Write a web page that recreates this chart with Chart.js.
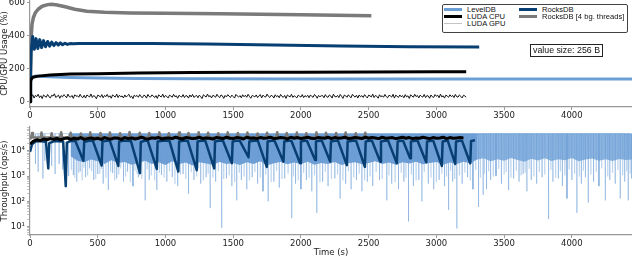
<!DOCTYPE html>
<html><head><meta charset="utf-8">
<script src="https://cdn.jsdelivr.net/npm/chart.js@4.4.1/dist/chart.umd.min.js"></script>
<style>
html,body{margin:0;padding:0;background:#fff;}
#wrap{position:relative;width:632px;height:258px;overflow:hidden;background:#fff;}
canvas{position:absolute;left:0;}
#legend{position:absolute;left:442px;top:4px;width:184px;height:27px;border:1px solid #444;border-radius:2px;background:#fff;font-family:"Liberation Sans",Arial,sans-serif;font-size:7.6px;color:#111;}
.li{position:absolute;height:7px;line-height:7px;white-space:nowrap;width:100px;}
.sw{position:absolute;left:0;width:18px;}
.lt{position:absolute;left:23px;top:0;}
#vs{position:absolute;left:530px;top:44px;width:71px;height:11px;border:1px solid #222;font-family:"Liberation Sans",Arial,sans-serif;font-size:8.8px;line-height:11px;text-align:center;color:#111;background:#fff;}
</style></head>
<body>
<div id="wrap">
<canvas id="cpu" width="632" height="122" style="top:0"></canvas>
<canvas id="tput" width="632" height="136" style="top:122px"></canvas>
<div id="legend"></div>
<div id="vs">value size: 256 B</div>
</div>
<script>
// ---------- axis ticks ----------
const timeTicks = [0,500,1000,1500,2000,2500,3000,3500,4000];
const usageTicks = [0,200,400,600];
const tputMajor = [10,100,1000,10000];
const tputMajorLabels = ['10¹','10²','10³','10⁴'];
const tputMinor = [5,6,7,8,9,20,30,40,50,60,70,80,90,200,300,400,500,600,700,800,900,2000,3000,4000,5000,6000,7000,8000,9000,20000,30000,40000,50000,60000,70000,80000];

// ---------- series names ----------
const seriesNames = ['LevelDB','LUDA CPU','LUDA GPU','RocksDB','RocksDB [4 bg. threads]'];

// ---------- CPU / GPU usage (%) ----------
const levelCpuT = [0,5,15,40,100,200,300,500,800,1200,2000,3000,4000,4450];
const levelCpu  = [0,120,148,155,152,150,147,143,140,139,138,137,137,137];

const ludaCpuT = [0,5,20,60,150,300,500,800,1200,1600,2000,2500,3000,3220];
const ludaCpu  = [0,130,148,155,162,168,170,174,177,178,179,180,181,182];

const ludaGpuStep = 10;
const ludaGpu = [35,28,42,22,38,31,45,25,36,19,41,33,27,44,30,23,39,34,48,26,
32,40,21,37,29,43,35,24,46,31,28,38,20,42,33,36,27,45,30,25,
39,22,41,34,29,47,26,37,32,18,40,35,28,43,24,38,31,44,27,36,
21,42,33,29,46,25,39,30,35,23,41,28,37,45,26,34,19,40,32,38,
27,43,30,24,39,36,22,44,31,28,41,35,25,37,20,42,33,29,46,26,
38,31,23,40,34,27,45,30,36,21,39,32,28,43,25,37,35,22,41,29,
44,26,33,38,24,40,31,19,42,35,28,46,30,37,23,39,34,27,45,32,
25,41,36,20,38,29,43,33,26,40,31,22,44,35,28,37,24,42,30,39,
27,45,32,21,38,34,29,41,25,36,43,23,40,31,28,46,33,26,39,35,
22,42,30,37,24,44,32,27,38,20,41,34,29,45,26,36,31,23,40,33,
28,43,25,37,30,39,24,41,32,27,44,35,21,38,30,36,
37,24,43,30,27,41,35,22,46,31,29,38,25,44,33,20,40,36,27,42,
31,24,45,34,28,39,22,41,30,37,26,43,32,23,40,35,29,46,25,38,
33,21,42,30,36,27,44,31,24,39,35,28,45,22,40,33,26,41,30,37,
24,43,29,36,20,42,34,27,45,31,38,23,40,32,28,44,25,37,35,21,
41,30,26,43,33,39,24,46,29,36,22,40,34,27,42,31,38,25,44,30,
28,41,33,23,39,35,27];

const rocksCpuT = [0,8,20,32,45,58,72,86,100,115,130,145,160,176,192,208,224,240,258,276,295,320,360,450,600,900,1300,1800,2300,2800,3316];
const rocksCpu  = [0,300,395,318,382,322,376,328,370,333,365,337,361,340,358,343,356,345,354,347,352,351,352,353,352,352,350,344,338,333,331];

const rocks4CpuT = [0,8,15,25,40,60,90,130,160,200,260,330,420,550,740,1000,1400,2000,2520];
const rocks4Cpu  = [0,380,470,510,540,560,578,588,590,586,575,560,548,542,538,536,532,526,521];

// ---------- Throughput (ops/s) ----------
const levelTop = 47000;
const levelBandStart = 300, levelBandStep = 50, levelBandSplit = 60; // split index at t = 3300
const levelBandLow = [6000,4000,3500,4500,3800,3000,4200,3300,3600,2800,
3200,4000,3000,3500,2700,3800,3000,3400,2600,3500,
3100,2800,3600,3000,3300,2700,3500,3000,3800,2600,
3200,3600,2900,3400,3000,3700,2800,3300,3000,3600,
2700,3200,3500,2900,3300,3800,3000,3400,2800,3500,
3100,3700,2900,3300,3600,2800,3400,3000,3700,3200,
4500,5000,3800,4600,4000,5200,4300,3700,4800,4100,
5000,3900,4600,4200,5100,3800,4500,4900,4000,4600,
3900,4700,4300,4500];
const levelSpikeT = [40,60,95,110,160,185,215,240,285,320,
345,370,410,440,470,500,540,578,610,640,
690,720,760,800,850,880,936,970,1010,1050,
1090,1130,1170,1210,1260,1300,1330,1370,1415,1450,
1490,1526,1560,1600,1640,1680,1720,1758,1800,1840,
1880,1932,1960,2000,2040,2080,2117,2160,2200,2250,
2289,2330,2370,2410,2450,2490,2530,2580,2634,2670,
2720,2760,2794,2830,2870,2893,2940,2980,3020,3060,
3090,3120,3151,3190,3230,3270,3311,3345,3370,3400,
3440,3480,3533,3570,3610,3640,3668,3700,3740,3780,
3828,3860,3900,3930,3964,4000,4037,4070,4100,4121,
4160,4200,4247,4280,4320,4357,4390,4416,4440];
const levelSpikeV = [3000,1500,800,4000,2500,1200,3000,1800,1000,1100,
600,1500,900,2000,700,1200,500,280,1300,800,
600,1500,400,900,110,700,280,1100,600,900,
400,1200,200,700,500,900,54,600,9,800,
400,110,700,300,900,500,250,100,600,350,
800,22,500,300,700,250,35,600,400,800,
130,500,300,700,250,600,400,700,110,500,
300,600,16,400,700,100,500,300,700,400,
46,600,8.5,500,900,300,60,180,300,700,
1000,500,280,800,600,1200,250,700,500,900,
20,600,800,400,130,700,35,500,900,90,
600,400,110,700,500,130,600,110,800];
const levelShallowT = [305,330,358,385,398,425,455,485,515,528,
560,595,625,655,670,705,740,775,790,825,
865,895,920,955,990,1030,1070,1110,1150,1190,
1230,1245,1280,1315,1350,1390,1430,1470,1510,1545,
1580,1620,1660,1700,1740,1780,1820,1860,1905,1945,
1980,2020,2060,2100,2140,2180,2225,2270,2310,2350,
2390,2430,2470,2510,2555,2600,2650,2695,2740,2775,
2815,2850,2910,2960,3000,3040,3075,3105,3135,3170,
3210,3250,3290,3325,3355,3385,3420,3460,3500,3515,
3550,3590,3625,3655,3685,3720,3760,3800,3845,3880,
3915,3948,3980,4020,4055,4085,4140,4180,4220,4265,
4300,4340,4375,4405,4430];
const levelShallowV = [1800,900,1400,700,2200,1100,1600,800,1300,2000,
900,1500,700,1200,2100,1000,600,1700,1300,800,
1900,1100,700,1400,900,1600,500,1200,800,1500,
1000,2100,700,1300,900,1600,800,1100,600,1400,
1000,700,1500,900,1200,600,1700,800,1300,1000,
700,1400,900,1100,600,1500,800,1200,700,1600,
900,1300,700,1000,1500,800,1100,600,1400,900,
1200,700,1500,900,600,1300,1000,1700,800,1100,
1400,700,1800,900,1300,1600,1000,2000,1200,1500,
900,1700,1100,1400,2000,1000,1500,1200,1800,900,
1600,1100,1900,1300,1000,1700,1200,1500,2100,1000,
1400,1800,1100,1600,1300];

const ludaTputStep = 25;
const ludaTput = [18e3,24e3,27e3,25e3,29e3,27e3,30e3,28e3,31e3,27e3,
30e3,32e3,28e3,31e3,29e3,33e3,28e3,30e3,32e3,29e3,
31e3,28e3,33e3,30e3,29e3,32e3,31e3,28e3,33e3,30e3,
32e3,29e3,31e3,34e3,30e3,29e3,32e3,31e3,33e3,29e3,
31e3,32e3,30e3,34e3,31e3,29e3,33e3,32e3,30e3,31e3,
34e3,30e3,32e3,31e3,29e3,33e3,32e3,30e3,34e3,31e3,
30e3,33e3,32e3,29e3,34e3,31e3,32e3,30e3,33e3,31e3,
32e3,34e3,30e3,31e3,33e3,32e3,29e3,34e3,31e3,33e3,
30e3,32e3,34e3,31e3,30e3,33e3,32e3,31e3,34e3,30e3,
33e3,31e3,32e3,34e3,30e3,31e3,33e3,32e3,30e3,34e3,
31e3,33e3,32e3,30e3,34e3,31e3,32e3,33e3,30e3,32e3,
34e3,31e3,33e3,30e3,32e3,31e3,34e3,32e3,30e3,33e3,
31e3,32e3,34e3,30e3,33e3,31e3,32e3,33e3,32e3];

const rocksTputT = [0,15,40,80,118,135,142,180,245,264,272,300,
335,394,400,440, 465,529,535,570, 590,652,658,700, 745,812,818,850,
870,936,942,990, 1030,1095,1101,1140, 1165,1231,1237,1270, 1295,1360,1366,1400,
1425,1490,1496,1530, 1550,1613,1619,1660, 1683,1748,1754,1790, 1806,1871,1877,1915,
1930,1994,2000,2030, 2045,2105,2111,2140, 2155,2216,2222,2260, 2275,2339,2345,2390,
2408,2472,2478,2510, 2525,2585,2591,2630, 2645,2708,2714,2745, 2755,2806,2812,2850,
2862,2925,2931,2970, 2978,3040,3046,3080, 3085,3139,3145,3180, 3190,3250,3256,3285];
const rocksTput = [9e3,18e3,23e3,24e3,22e3,2000,20e3,24e3,23e3,400,21e3,24e3,
24e3,4000,22e3,25e3, 24e3,2600,23e3,25e3, 24e3,2500,23e3,25e3, 24e3,1300,22e3,25e3,
24e3,1900,23e3,25e3, 24e3,1500,23e3,25e3, 24e3,1700,23e3,25e3, 24e3,2000,23e3,25e3,
24e3,3200,23e3,25e3, 24e3,5500,23e3,25e3, 24e3,2300,23e3,25e3, 24e3,3700,23e3,25e3,
24e3,3200,23e3,25e3, 24e3,4300,23e3,25e3, 24e3,3700,23e3,25e3, 24e3,2700,23e3,25e3,
24e3,2300,23e3,25e3, 24e3,3700,23e3,25e3, 24e3,3200,23e3,25e3, 24e3,5000,23e3,25e3,
24e3,3500,23e3,25e3, 24e3,2500,23e3,25e3, 24e3,3000,23e3,25e3, 24e3,3200,24e3,26e3];

const rocks4Base = 33e3, rocks4Start = 28e3, rocks4End = 2520;
const rocks4BumpT = [15,85,160,230,300,375,445,520,590,665,735,810,880,955,1025,1100,1170,1245,
1315,1390,1460,1535,1605,1680,1750,1825,1895,1970,2040,2115,2185,2260,2330,2405,2475];
const rocks4BumpV = [50e3,52e3,49e3,54e3,51e3,48e3,53e3,50e3,52e3,49e3,55e3,51e3,50e3,53e3,49e3,52e3,50e3,54e3,
51e3,49e3,53e3,50e3,52e3,48e3,51e3,54e3,50e3,52e3,49e3,53e3,51e3,50e3,52e3,49e3,51e3];

// ---------- colours / styles ----------
const C_LEVEL = '#6b9fd6', C_LUDA = '#000000', C_GPU = '#111111', C_GPU_LEG = '#c4c4c4', C_ROCKS = '#083f73', C_ROCKS4 = '#7a7a7a';
const FONT = {family:'DejaVu Sans', size:8.5};

// ---------- helpers ----------
const pairs = (T, V) => T.map((t, i) => ({x: t, y: V[i]}));
const stepped = (step, V, start = 0) => V.map((v, i) => ({x: start + i * step, y: v}));
function spikes(T, V, top) {
  const out = [];
  T.forEach((t, i) => { out.push({x: t - 0.6, y: top}, {x: t, y: V[i]}, {x: t + 0.6, y: top}); });
  return out;
}
function bumps(T, V, base, start, end) {
  const out = [{x: 0, y: start}];
  T.forEach((t, i) => { out.push({x: t - 7, y: base}, {x: t, y: V[i]}, {x: t + 7, y: base}); });
  out.push({x: end, y: base});
  return out;
}
function lineDs(label, data, color, width, order, extra) {
  return Object.assign({label, data, borderColor: color, backgroundColor: color, borderWidth: width,
    pointRadius: 0, tension: 0, fill: false, order, borderJoinStyle: 'round', borderCapStyle: 'butt'}, extra || {});
}
function xScale(withTitle) {
  return {
    type: 'linear', min: 0, max: 4444,
    afterBuildTicks: s => { s.ticks = timeTicks.map(v => ({value: v})); },
    afterFit: s => { s.height = withTitle ? 23 : 15; s.paddingLeft = 0; s.paddingRight = 0; },
    ticks: {font: FONT, color: '#222', padding: 1, maxRotation: 0, autoSkip: false, callback: v => String(v)},
    grid: {display: true, drawOnChartArea: false, drawTicks: true, tickLength: 3, tickColor: '#999'},
    border: {display: true, color: '#999', width: 1.2},
    title: {display: withTitle, text: 'Time (s)', font: FONT, color: '#222', padding: {top: 1, bottom: 0}}
  };
}
const common = {
  responsive: false, animation: false, devicePixelRatio: 1, normalized: true,
  plugins: {legend: {display: false}, tooltip: {enabled: false}},
  events: []
};

// ---------- CPU chart ----------
const cpuChart = new Chart(document.getElementById('cpu'), {
  type: 'line',
  data: {datasets: [
    lineDs(seriesNames[0], pairs(levelCpuT, levelCpu), C_LEVEL, 3, 4),
    lineDs(seriesNames[1], pairs(ludaCpuT, ludaCpu), C_LUDA, 3, 1),
    lineDs(seriesNames[2], stepped(ludaGpuStep, ludaGpu), C_GPU, 1, 0, {legendColor: C_GPU_LEG, legendWidth: 1.5}),
    lineDs(seriesNames[3], pairs(rocksCpuT, rocksCpu), C_ROCKS, 3, 2),
    lineDs(seriesNames[4], pairs(rocks4CpuT, rocks4Cpu), C_ROCKS4, 3.5, 3)
  ]},
  options: Object.assign({}, common, {
    layout: {padding: {left: 0, right: 0, top: 0, bottom: 0}},
    scales: {
      x: xScale(false),
      y: {
        type: 'linear', min: -32, max: 616,
        afterBuildTicks: s => { s.ticks = usageTicks.map(v => ({value: v})); },
        afterFit: s => { s.width = 30; s.paddingTop = 0; s.paddingBottom = 0; },
        ticks: {font: FONT, color: '#222', padding: 2},
        grid: {display: true, drawOnChartArea: false, drawTicks: true, tickLength: 3, tickColor: '#999'},
        border: {display: true, color: '#999', width: 1.2},
        title: {display: true, text: 'CPU/GPU Usage (%)', font: FONT, color: '#222', padding: {top: 0, bottom: 0}}
      }
    }
  })
});

// ---------- Throughput chart ----------
const bandPts = levelBandLow.map((v, i) => ({x: levelBandStart + i * levelBandStep, y: v}));
const bandA = bandPts.slice(0, levelBandSplit + 1), bandB = bandPts.slice(levelBandSplit);
new Chart(document.getElementById('tput'), {
  type: 'line',
  data: {datasets: [
    lineDs(seriesNames[1], stepped(ludaTputStep, ludaTput), C_LUDA, 3, 0),
    lineDs(seriesNames[3], pairs(rocksTputT, rocksTput), C_ROCKS, 2.5, 1),
    lineDs(seriesNames[4], bumps(rocks4BumpT, rocks4BumpV, rocks4Base, rocks4Start, rocks4End), C_ROCKS4, 2.5, 2),
    lineDs(seriesNames[0], spikes(levelSpikeT, levelSpikeV, levelTop), 'rgba(107,159,214,0.6)', 0.8, 3),
    lineDs(seriesNames[0], spikes(levelShallowT, levelShallowV, levelTop), 'rgba(107,159,214,0.45)', 1.2, 4),
    lineDs(seriesNames[0], bandA.map(p => ({x: p.x, y: levelTop})), 'rgba(107,159,214,0)', 0, 5),
    lineDs(seriesNames[0], bandA, 'rgba(107,159,214,0)', 0, 6, {fill: '-1', backgroundColor: 'rgba(98,150,208,0.92)'}),
    lineDs(seriesNames[0], bandB.map(p => ({x: p.x, y: levelTop})), 'rgba(107,159,214,0)', 0, 7),
    lineDs(seriesNames[0], bandB, 'rgba(107,159,214,0)', 0, 8, {fill: '-1', backgroundColor: 'rgba(107,159,214,0.78)'})
  ]},
  options: Object.assign({}, common, {
    layout: {padding: {left: 0, right: 0, top: 5, bottom: 0}},
    scales: {
      x: xScale(true),
      y: {
        type: 'logarithmic', min: 4.7, max: 86300,
        afterBuildTicks: s => { s.ticks = tputMajor.concat(tputMinor).sort((a, b) => a - b).map(v => ({value: v})); },
        afterFit: s => { s.width = 30; s.paddingTop = 0; s.paddingBottom = 0; },
        ticks: {font: FONT, color: '#222', padding: 2, autoSkip: false,
          callback: v => { const i = tputMajor.indexOf(v); return i >= 0 ? tputMajorLabels[i] : ''; }},
        grid: {display: true, drawOnChartArea: false, drawTicks: true, tickLength: 3,
          tickColor: '#999', tickWidth: c => (c.tick && tputMajor.includes(c.tick.value)) ? 1 : 0.6},
        border: {display: true, color: '#999', width: 1.2},
        title: {display: true, text: 'Throughput (ops/s)', font: FONT, color: '#222', padding: {top: 0, bottom: 0}}
      }
    }
  })
});

// ---------- legend (HTML, built from the CPU chart datasets) ----------
(function () {
  const box = document.getElementById('legend');
  const ds = cpuChart.data.datasets;
  const colX = [1, 76], rowY = [1, 8, 15];
  ds.forEach((d, i) => {
    const col = i < 3 ? 0 : 1, row = i < 3 ? i : i - 3;
    const w = d.legendWidth || d.borderWidth;
    const item = document.createElement('div');
    item.className = 'li';
    item.style.left = colX[col] + 'px';
    item.style.top = rowY[row] + 'px';
    const sw = document.createElement('span');
    sw.className = 'sw';
    sw.style.background = d.legendColor || d.borderColor;
    sw.style.height = w + 'px';
    sw.style.top = ((7 - w) / 2) + 'px';
    const tx = document.createElement('span');
    tx.className = 'lt';
    tx.textContent = d.label;
    item.appendChild(sw); item.appendChild(tx);
    box.appendChild(item);
  });
})();
</script>
</body></html>
